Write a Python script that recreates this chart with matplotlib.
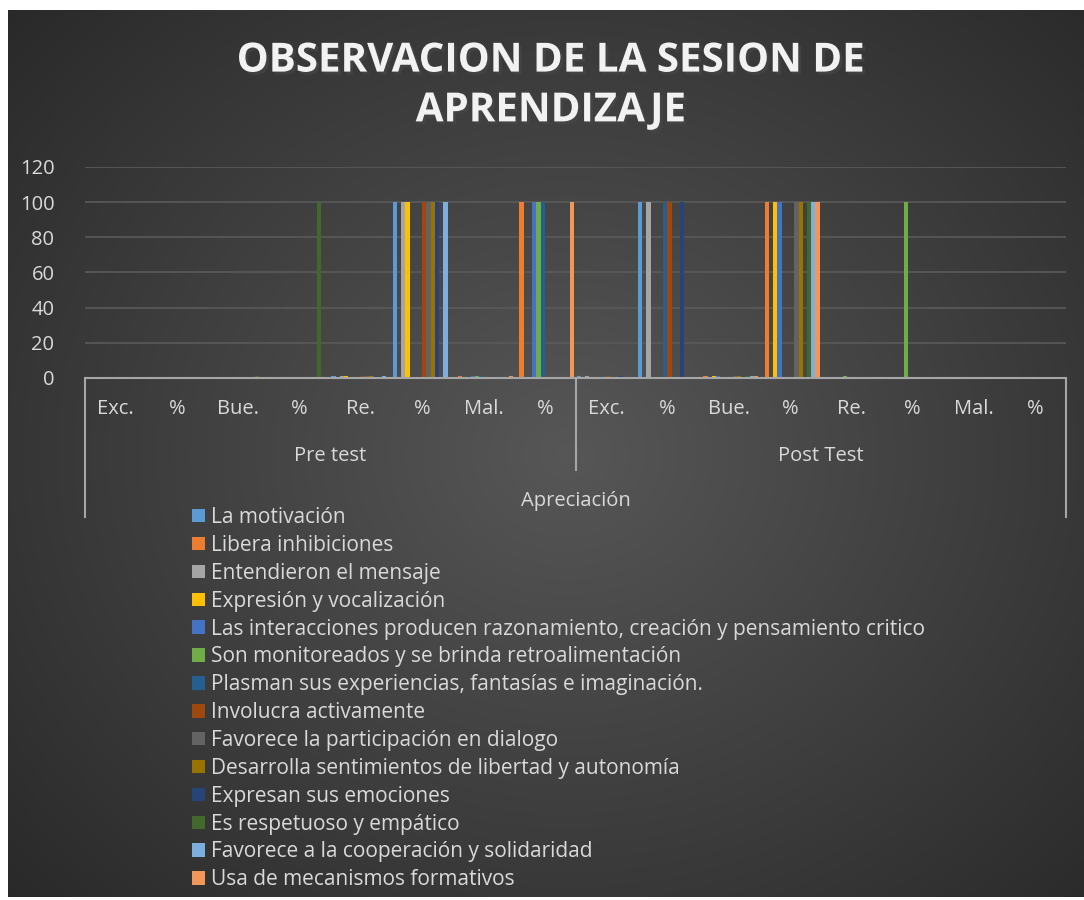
import numpy as np
import matplotlib
matplotlib.use("Agg")
import matplotlib.pyplot as plt
from matplotlib.lines import Line2D
import matplotlib.patheffects as pe

plt.rcParams['font.family'] = ['Open Sans', 'DejaVu Sans']

# ── DATA ──────────────────────────────────────────────────
levels = ["Exc.", "%", "Bue.", "%", "Re.", "%", "Mal.", "%"]
groups = ["Pre test", "Post Test"]
categories = levels * 2

series_names = [
    "La motivación",
    "Libera inhibiciones",
    "Entendieron el mensaje",
    "Expresión y vocalización",
    "Las interacciones producen razonamiento, creación y pensamiento critico",
    "Son monitoreados y se brinda retroalimentación",
    "Plasman sus experiencias, fantasías e imaginación.",
    "Involucra activamente",
    "Favorece la participación en dialogo",
    "Desarrolla sentimientos de libertad y autonomía",
    "Expresan sus emociones",
    "Es respetuoso y empático",
    "Favorece a la cooperación y solidaridad",
    "Usa de mecanismos formativos",
]

#            Pre: Exc %  Bue %   Re %    Mal %    | Post: Exc %   Bue %   Re %    Mal %
values = [
    [0, 0, 0, 0,   1, 100, 0, 0,     1, 100, 0, 0,     0, 0,   0, 0],   # La motivación
    [0, 0, 0, 0,   0, 0,   1, 100,   0, 0,   1, 100,   0, 0,   0, 0],   # Libera inhibiciones
    [0, 0, 0, 0,   1, 100, 0, 0,     1, 100, 0, 0,     0, 0,   0, 0],   # Entendieron
    [0, 0, 0, 0,   1, 100, 0, 0,     0, 0,   1, 100,   0, 0,   0, 0],   # Expresión
    [0, 0, 0, 0,   0, 0,   1, 100,   0, 0,   1, 100,   0, 0,   0, 0],   # Las interacciones
    [0, 0, 0, 0,   0, 0,   1, 100,   0, 0,   0, 0,     1, 100, 0, 0],   # Son monitoreados
    [0, 0, 0, 0,   0, 0,   1, 100,   1, 100, 0, 0,     0, 0,   0, 0],   # Plasman
    [0, 0, 0, 0,   1, 100, 0, 0,     1, 100, 0, 0,     0, 0,   0, 0],   # Involucra
    [0, 0, 0, 0,   1, 100, 0, 0,     0, 0,   1, 100,   0, 0,   0, 0],   # Favorece participación
    [0, 0, 0, 0,   1, 100, 0, 0,     0, 0,   1, 100,   0, 0,   0, 0],   # Desarrolla
    [0, 0, 0, 0,   1, 100, 0, 0,     1, 100, 0, 0,     0, 0,   0, 0],   # Expresan
    [0, 0, 1, 100, 0, 0,   0, 0,     0, 0,   1, 100,   0, 0,   0, 0],   # Es respetuoso
    [0, 0, 0, 0,   1, 100, 0, 0,     0, 0,   1, 100,   0, 0,   0, 0],   # Favorece cooperación
    [0, 0, 0, 0,   0, 0,   1, 100,   0, 0,   1, 100,   0, 0,   0, 0],   # Usa de mecanismos
]

colors = ["#5B9BD5", "#ED7D31", "#A5A5A5", "#FFC000", "#4472C4", "#70AD47",
          "#255E91", "#9E480E", "#636363", "#997300", "#264478", "#43682B",
          "#7CAFDD", "#F1975A"]

TXT = "#d9d9d9"
FS = 14.5

# ── FIGURE ────────────────────────────────────────────────
fig = plt.figure(figsize=(10.84, 9), dpi=100)
fig.patch.set_facecolor("white")

# dark radial background
bg = fig.add_axes([8/1084, 3/900, 1076/1084, 887/900], zorder=-10)
yy, xx = np.mgrid[0:1:300j, 0:1:360j]
r = np.sqrt(((xx - 0.52) / 0.75) ** 2 + ((yy - 0.5) / 0.8) ** 2)
shade = np.clip(0.34 - 0.19 * r, 0.14, 0.34)
bg.imshow(np.dstack([shade] * 3), aspect="auto", extent=[0, 1, 0, 1], origin="lower")
bg.axis("off")

ax = fig.add_axes([85/1084, 1 - 378/900, (1066 - 85)/1084, (378 - 167)/900])
ax.patch.set_alpha(0)

n_s = len(series_names)
w = 1 / 14.5
x = np.arange(len(categories))
for j in range(n_s):
    ax.bar(x + (j - (n_s - 1) / 2) * w, values[j], width=w,
           color=colors[j], label=series_names[j], zorder=3)

ax.set_xlim(-0.5, len(categories) - 0.5)
ax.set_ylim(0, 120)
ax.set_yticks(range(0, 121, 20))
ax.tick_params(axis="y", length=0, colors=TXT, labelsize=FS, pad=22)
ax.tick_params(axis="x", length=0, labelbottom=False)
ax.grid(axis="y", color="#5a5a5a", lw=1.2, zorder=0)
for s in ["top", "right", "left"]:
    ax.spines[s].set_visible(False)
ax.spines["bottom"].set_color("#a6a6a6")
ax.spines["bottom"].set_linewidth(1.5)
ax.spines["bottom"].set_zorder(4)

# multi-level category axis
tr = ax.get_xaxis_transform()
for i, lab in enumerate(categories):
    ax.text(i, -0.147, lab, transform=tr, ha="center", va="center",
            color=TXT, fontsize=FS, clip_on=False)
for g, name in enumerate(groups):
    ax.text(g * 8 + 3.5, -0.37, name, transform=tr, ha="center", va="center",
            color=TXT, fontsize=FS, clip_on=False)
ax.text(7.5, -0.583, "Apreciación", transform=tr, ha="center", va="center",
        color=TXT, fontsize=FS, clip_on=False)
for xs, yb in [(-0.5, -0.659), (7.5, -0.436), (15.5, -0.659)]:
    ax.add_line(Line2D([xs, xs], [0, yb], transform=tr, color="#a6a6a6",
                       lw=1.5, clip_on=False))

# title
fig.text(551/1084, 1 - 86/900, "OBSERVACION DE LA SESION DE\nAPRENDIZAJE",
         ha="center", va="center", color="#f2f2f2", fontsize=29,
         fontweight="bold", linespacing=1.36,
         path_effects=[pe.withSimplePatchShadow(offset=(2, -2), alpha=0.6)])

# legend
leg = fig.legend(loc="upper left", bbox_to_anchor=(192/1084, 1 - 507/900),
                 frameon=False, fontsize=15, handlelength=0.62,
                 handleheight=0.62, handletextpad=0.3, labelspacing=0.33,
                 borderaxespad=0, borderpad=0)
for t in leg.get_texts():
    t.set_color(TXT)

fig.savefig("out.png", dpi=100, facecolor=fig.get_facecolor())
